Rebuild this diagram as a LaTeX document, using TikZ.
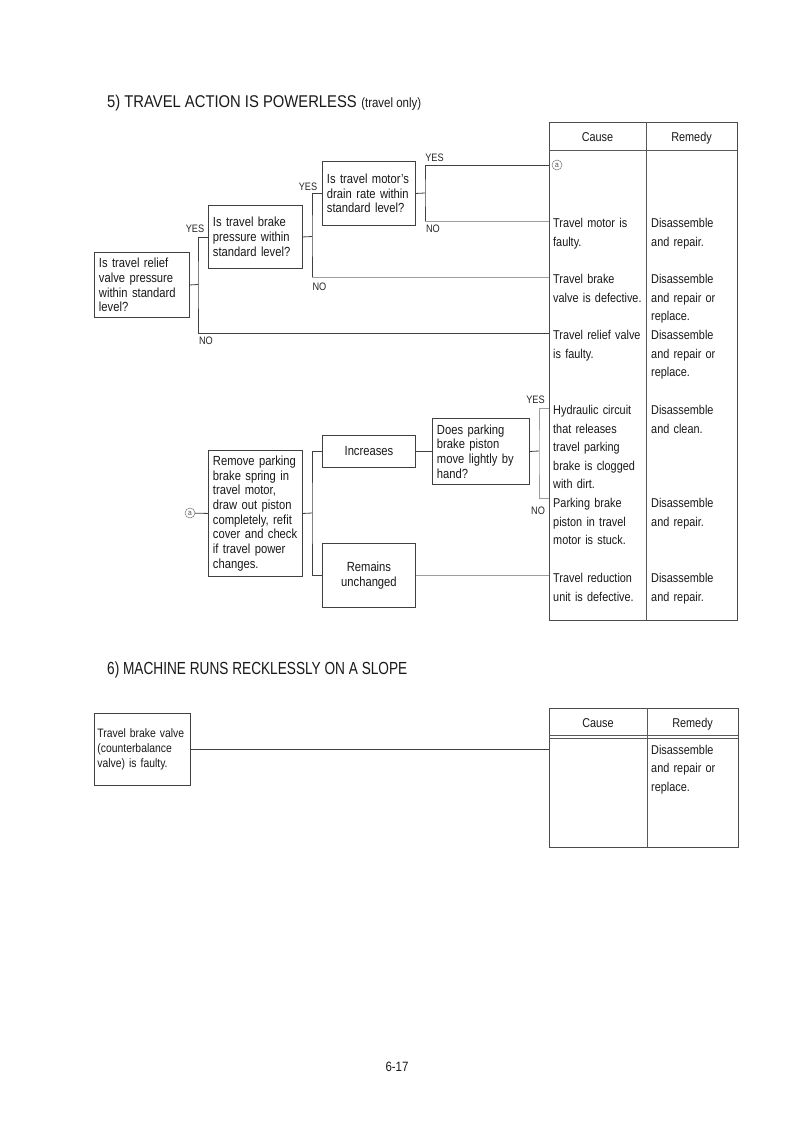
\documentclass[tikz,border=0pt]{standalone}
\usepackage{fontspec}
\setmainfont{Liberation Sans}[FakeStretch=0.85]
\newfontfamily\titleA{Liberation Sans}[FakeStretch=0.87]
\newfontfamily\titleB{Liberation Sans}[FakeStretch=0.78]
\begin{document}
\begin{tikzpicture}[x=1pt,y=-1pt,
  ln/.style={draw=black!75, line width=0.8pt},
  lt/.style={draw=black!38, line width=0.8pt},
  box/.style={draw=black!75, line width=0.9pt, rectangle, anchor=north west,
    inner xsep=4.5pt, inner ysep=0pt, align=left, text=black!90,
    font=\fontsize{13.2}{14.7}\selectfont},
  tbl/.style={draw=black!70, line width=1pt, rectangle, anchor=north west, inner sep=0pt},
  tline/.style={draw=black!65, line width=0.9pt},
  cell/.style={anchor=north west, inner sep=0pt, align=left, text=black!90,
    font=\fontsize{12.8}{18.5}\selectfont},
  hdr/.style={anchor=base, inner sep=0pt, text=black!90, font=\fontsize{12.8}{15}\selectfont},
  lab/.style={inner sep=0pt, text=black!85, font=\fontsize{10.8}{12}\selectfont},
  circ/.style={circle, draw=black!55, line width=0.5pt, inner sep=0pt, minimum size=10pt,
    text=black!70, font=\fontsize{7.8}{8}\selectfont}]
\fill[white] (0,0) rectangle (794,1124);
\useasboundingbox (0,0) rectangle (794,1124);

% ---------- Section 5 ----------
\node[anchor=base west, inner sep=0pt, text=black!90] (t5) at (107,107.5)
  {{\titleA\fontsize{17}{20}\selectfont 5) TRAVEL ACTION IS POWERLESS}\hspace{4.5pt}{\fontsize{13.5}{16}\selectfont (travel only)}};

% table 1
\node[tbl, minimum width=188pt, minimum height=498pt] (T1) at (549,122) {};
\draw[tline] (646,122) -- (646,620);
\draw[tline] (549,150) -- (737,150);
\node[hdr] (h1) at (597.5,141) {Cause};
\node[hdr] (h2) at (691.5,141) {Remedy};

\node[circ] (ca1) at (557,165) {a};
\node[cell, text width=92pt] (c1) at (553,214.5) {\strut Travel motor is\\faulty.};
\node[cell, text width=84pt] (r1) at (651,214.5) {\strut Disassemble\\and repair.};
\node[cell, text width=92pt] (c2) at (553,270.5) {\strut Travel brake\\valve is defective.};
\node[cell, text width=84pt] (r2) at (651,270.5) {\strut Disassemble\\and repair or\\replace.};
\node[cell, text width=92pt] (c3) at (553,326.5) {\strut Travel relief valve\\is faulty.};
\node[cell, text width=84pt] (r3) at (651,326.5) {\strut Disassemble\\and repair or\\replace.};
\node[cell, text width=92pt] (c4) at (553,401.5) {\strut Hydraulic circuit\\that releases\\travel parking\\brake is clogged\\with dirt.};
\node[cell, text width=84pt] (r4) at (651,401.5) {\strut Disassemble\\and clean.};
\node[cell, text width=92pt] (c5) at (553,494.5) {\strut Parking brake\\piston in travel\\motor is stuck.};
\node[cell, text width=84pt] (r5) at (651,494.5) {\strut Disassemble\\and repair.};
\node[cell, text width=92pt] (c6) at (553,569.5) {\strut Travel reduction\\unit is defective.};
\node[cell, text width=84pt] (r6) at (651,569.5) {\strut Disassemble\\and repair.};

% entry points on table
\coordinate (e0) at (549,165);
\coordinate (e1) at (549,221);
\coordinate (e2) at (549,277);
\coordinate (e3) at (549,333);
\coordinate (e4) at (549,408);
\coordinate (e5) at (549,498);

% upper flowchart boxes
\node[box, minimum width=95pt, minimum height=65pt, text width=86pt] (A) at (94,252)
  {Is travel relief\\valve pressure\\within standard\\level?};
\node[box, minimum width=94pt, minimum height=63pt, text width=85pt] (B) at (208,205)
  {Is travel brake\\pressure within\\standard level?};
\node[box, minimum width=93pt, minimum height=64pt, text width=84pt] (C) at (322,161)
  {Is travel motor's\\drain rate within\\standard level?};

\coordinate (ja) at (198,284.5);
\draw[ln] (A.east) -- (ja);
\draw[ln] (B.west) -| (ja) |- (e3);
\coordinate (jb) at (312,236.5);
\draw[ln] (B.east) -- (jb);
\draw[ln] (C.west) -| (jb) -- (jb |- e2);
\draw[lt] (jb |- e2) -- (e2);
\coordinate (jc) at (425,193);
\draw[ln] (C.east) -- (jc);
\draw[ln] (e0) -| (jc) -- (jc |- e1);
\draw[lt] (jc |- e1) -- (e1);

\node[lab] (ly1) at (195,229) {YES};
\node[lab] (ln1) at (206,341) {NO};
\node[lab] (ly2) at (308,187) {YES};
\node[lab] (ln2) at (319.5,287) {NO};
\node[lab] (ly3) at (434.5,158) {YES};
\node[lab] (ln3) at (433,229) {NO};

% lower flowchart
\node[circ] (ca2) at (190,513) {a};
\node[box, minimum width=94pt, minimum height=126pt, text width=85pt] (D) at (208,450)
  {Remove parking\\brake spring in\\travel motor,\\draw out piston\\completely, refit\\cover and check\\if travel power\\changes.};
\node[box, minimum width=93pt, minimum height=32pt, text width=84pt, align=center] (E) at (322,435)
  {Increases};
\node[box, minimum width=93pt, minimum height=64pt, text width=84pt, align=center] (F) at (322,543)
  {Remains\\unchanged};
\node[box, minimum width=97pt, minimum height=66pt, text width=88pt] (G) at (432,418)
  {Does parking\\brake piston\\move lightly by\\hand?};

\draw[ln] (ca2) -- (D.west);
\coordinate (jd) at (312,513);
\draw[ln] (D.east) -- (jd);
\draw[ln] (E.west) -| (jd) |- (F.west);
\draw[ln] (E.east) -- (G.west);
\coordinate (jg) at (539,451);
\draw[ln] (G.east) -- (jg);
\draw[lt] (e4) -| (jg) |- (e5);
\draw[lt] (F.east) -- (F.east -| T1.west);

\node[lab] (ly4) at (535.5,400) {YES};
\node[lab] (ln4) at (538,511) {NO};

% ---------- Section 6 ----------
\node[anchor=base west, inner sep=0pt, text=black!90] (t6) at (107,674)
  {\titleB\fontsize{17.5}{20}\selectfont 6) MACHINE RUNS RECKLESSLY ON A SLOPE};

\node[tbl, minimum width=189pt, minimum height=139pt] (T2) at (549,708) {};
\draw[tline] (647,708) -- (647,847);
\draw[tline, line width=0.6pt] (549,735) -- (738,735);
\draw[tline, line width=0.6pt] (549,738.5) -- (738,738.5);
\node[hdr] (h3) at (598,727.5) {Cause};
\node[hdr] (h4) at (692.5,727.5) {Remedy};
\node[cell, text width=84pt] (r7) at (651,741) {\strut Disassemble\\and repair or\\replace.};

\node[box, minimum width=96pt, minimum height=72pt, text width=90pt, inner xsep=3pt,
  font=\fontsize{12.2}{15}\selectfont] (S) at (94,713)
  {Travel brake valve\\(counterbalance\\valve) is faulty.};
\draw[ln] (S.east) -- (S.east -| T2.west);

% page number
\node[anchor=base, inner sep=0pt, text=black!90, font=\fontsize{13.5}{16}\selectfont] (pg) at (397,1071) {6-17};
\end{tikzpicture}
\end{document}
